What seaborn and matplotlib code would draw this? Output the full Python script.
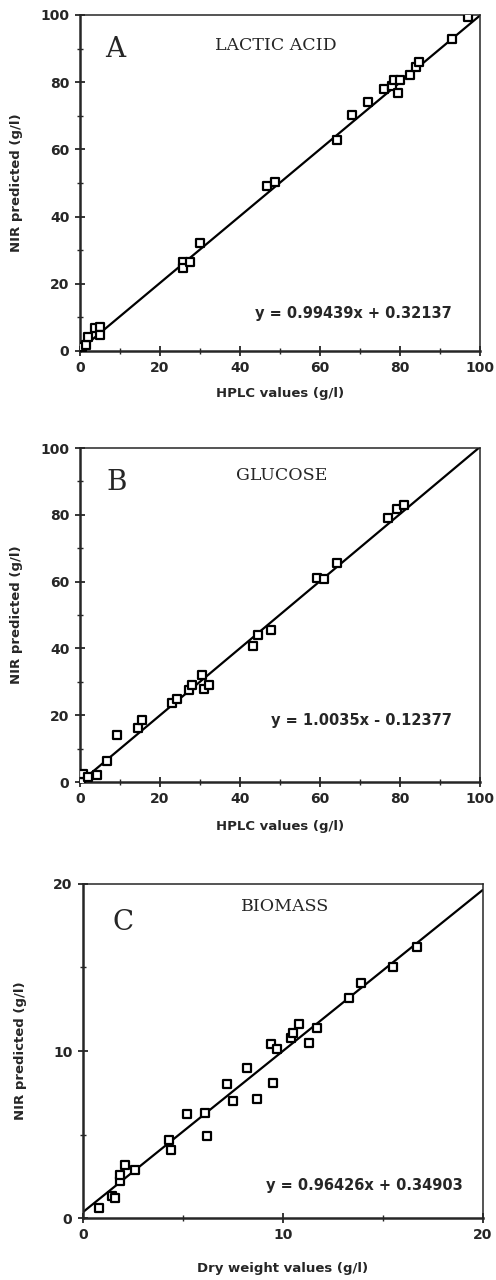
import numpy as np
import pandas as pd
import matplotlib
matplotlib.use("Agg")
import matplotlib.pyplot as plt
from matplotlib.ticker import MultipleLocator
import seaborn as sns

# Panel A - lactic acid
lactic_hplc = [0.5, 1.5, 2.0, 3.8, 5.0, 5.0, 25.8, 25.8, 27.6, 30.0, 46.8, 48.9,
               64.4, 68.0, 72.0, 76.0, 78.0, 78.5, 79.6, 80.2, 82.7, 84.0, 84.8, 93.2, 97.0]
lactic_nir = [1.2, 1.8, 4.2, 6.8, 7.1, 4.8, 26.5, 24.7, 26.5, 32.1, 49.1, 50.3,
              62.8, 70.2, 74.0, 78.0, 79.0, 80.7, 76.8, 80.5, 82.1, 84.5, 86.0, 92.9, 99.4]

# Panel B - glucose
glucose_hplc = [0.4, 0.7, 2.0, 4.2, 6.7, 9.4, 14.6, 15.5, 23.0, 24.2, 27.2, 28.0,
                30.5, 31.1, 32.4, 43.2, 44.5, 47.8, 59.3, 61.0, 64.2, 77.2, 79.4, 81.0]
glucose_nir = [0.0, 2.4, 1.5, 2.1, 6.3, 14.0, 16.2, 18.5, 23.6, 24.8, 27.5, 29.0,
               32.0, 27.8, 29.0, 40.7, 44.0, 45.5, 61.0, 60.8, 65.6, 79.0, 81.7, 82.9]

# Panel C - biomass
biomass_dry = [0.8, 1.45, 1.6, 1.85, 1.85, 2.1, 2.6, 4.3, 4.4, 5.2, 6.1, 6.2, 7.2, 7.5,
               8.2, 8.7, 9.4, 9.5, 9.7, 10.4, 10.5, 10.8, 11.3, 11.7, 13.3, 13.9, 15.5, 16.7]
biomass_nir = [0.6, 1.3, 1.2, 2.2, 2.6, 3.2, 2.9, 4.7, 4.1, 6.2, 6.3, 4.9, 8.0, 7.0,
               9.0, 7.1, 10.4, 8.1, 10.1, 10.8, 11.1, 11.6, 10.5, 11.4, 13.2, 14.1, 15.0, 16.2]

panel_letters = ["A", "B", "C"]
panel_titles = ["LACTIC ACID", "GLUCOSE", "BIOMASS"]
slopes = [0.99439, 1.0035, 0.96426]
intercepts = [0.32137, -0.12377, 0.34903]
equations = ["y = 0.99439x + 0.32137", "y = 1.0035x - 0.12377", "y = 0.96426x + 0.34903"]
x_labels = ["HPLC values (g/l)", "HPLC values (g/l)", "Dry weight values (g/l)"]
y_label = "NIR predicted (g/l)"
axis_max = [100, 100, 20]

sns.set_style("ticks")
plt.rcParams["font.family"] = ["DejaVu Sans"]

fig = plt.figure(figsize=(4.96, 12.8), dpi=100)
boxes = [[0.161, 0.7258, 0.806, 0.2625],
         [0.161, 0.389, 0.806, 0.261],
         [0.167, 0.0484, 0.806, 0.261]]

data = [(lactic_hplc, lactic_nir), (glucose_hplc, glucose_nir), (biomass_dry, biomass_nir)]
eq_pos = [(0.93, 0.113), (0.93, 0.183), (0.95, 0.096)]
letter_pos = [(0.088, 0.896), (0.093, 0.898), (0.1, 0.886)]
title_pos = [(0.49, 0.91), (0.505, 0.919), (0.505, 0.934)]
xlab_pad = [8, 10, 14]
ylab_x = [-0.142, -0.142, -0.14]

for i in range(3):
    ax = fig.add_axes(boxes[i])
    xs, ys = data[i]
    df = pd.DataFrame({"x": xs, "y": ys})
    top = axis_max[i]
    fit = pd.DataFrame({"x": [0, top]})
    fit["y"] = slopes[i] * fit["x"] + intercepts[i]
    sns.lineplot(data=fit, x="x", y="y", ax=ax, color="black", linewidth=1.6)
    sns.scatterplot(data=df, x="x", y="y", ax=ax, marker="s", s=36,
                    facecolor="white", edgecolor="black", linewidth=1.6, zorder=3)
    ax.set_xlim(0, top)
    ax.set_ylim(0, top)
    ax.xaxis.set_major_locator(MultipleLocator(top / 5 if top == 100 else 10))
    ax.yaxis.set_major_locator(MultipleLocator(top / 5 if top == 100 else 10))
    ax.xaxis.set_minor_locator(MultipleLocator(top / 10 if top == 100 else 5))
    ax.yaxis.set_minor_locator(MultipleLocator(top / 10 if top == 100 else 5))
    ax.tick_params(which="major", direction="inout", length=7, width=1.3,
                   labelsize=10, pad=4)
    ax.tick_params(which="minor", direction="inout", length=4, width=1.0)
    for lab in ax.get_xticklabels() + ax.get_yticklabels():
        lab.set_fontweight("bold")
    for side in ["left", "bottom"]:
        ax.spines[side].set_linewidth(1.8)
    for side in ["top", "right"]:
        ax.spines[side].set_linewidth(1.1)
    ax.set_xlabel(x_labels[i], fontsize=9.5, fontweight="bold", labelpad=xlab_pad[i])
    ax.set_ylabel(y_label, fontsize=9.5, fontweight="bold")
    ax.yaxis.set_label_coords(ylab_x[i], 0.5)
    ax.text(*letter_pos[i], panel_letters[i], transform=ax.transAxes, fontsize=20,
            family="DejaVu Serif", ha="center", va="center")
    ax.text(*title_pos[i], panel_titles[i], transform=ax.transAxes, fontsize=12.5,
            family="DejaVu Serif", ha="center", va="center")
    ax.text(*eq_pos[i], equations[i], transform=ax.transAxes, fontsize=10.5,
            fontweight="bold", ha="right", va="center")

fig.savefig("out.png", dpi=100)
